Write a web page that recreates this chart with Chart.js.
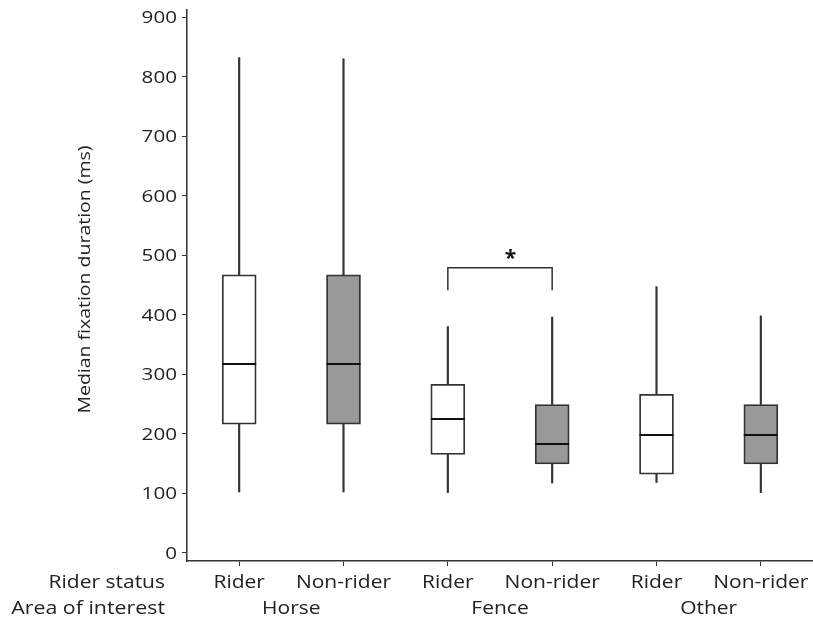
<!DOCTYPE html>
<html><head><meta charset="utf-8">
<script src="https://cdn.jsdelivr.net/npm/chart.js@4/dist/chart.umd.min.js"></script>
<style>html,body{margin:0;padding:0;background:#fff;overflow:hidden}#wrap{width:813px;height:617px}</style>
</head><body><div id="wrap"><canvas id="c" width="813" height="617"></canvas></div>
<script>
// ---- data ----
const riderStatus = ['Rider', 'Non-rider', 'Rider', 'Non-rider', 'Rider', 'Non-rider'];
const areas = ['Horse', 'Fence', 'Other'];
const whiskerMin = [102, 102, 101, 117, 118, 101];
const quartile1  = [216, 216, 165, 149, 132, 149];
const medians    = [317, 317, 225, 182, 198, 198];
const quartile3  = [467, 467, 283, 249, 266, 249];
const whiskerMax = [832, 830, 380, 396, 447, 398];
const yTicks = [0, 100, 200, 300, 400, 500, 600, 700, 800, 900];
const rowHeaders = ['Rider status', 'Area of interest'];
const yTitle = 'Median fixation duration (ms)';
const sigPair = [2, 3];
const sigBracket = [441, 479];
const sigLabel = '*';

// ---- styling ----
const FONT = "'Open Sans', 'Noto Sans', sans-serif";
const TEXT = '#222';
const LINE = '#333';
const fills = riderStatus.map(s => s === 'Rider' ? '#ffffff' : '#999999');

const boxData = quartile1.map((q, i) => [q, quartile3[i]]);
const lowData = whiskerMin.map((m, i) => [m, quartile1[i]]);
const highData = quartile3.map((q, i) => [q, whiskerMax[i]]);

function stretchText(ctx, str, x, y, align, size, sx, rot) {
  ctx.save();
  ctx.translate(x, y);
  if (rot) ctx.rotate(rot);
  ctx.scale(sx, 1);
  ctx.font = size + 'px ' + FONT;
  ctx.textAlign = align;
  ctx.textBaseline = 'alphabetic';
  ctx.fillText(str, 0, 0);
  ctx.restore();
}

const extras = {
  id: 'extras',
  afterDatasetsDraw(chart) {
    const ctx = chart.ctx, y = chart.scales.y, x = chart.scales.x;
    const meta = chart.getDatasetMeta(2);
    ctx.save();
    ctx.strokeStyle = '#111';
    ctx.lineWidth = 2;
    meta.data.forEach((bar, i) => {
      const py = Math.round(y.getPixelForValue(medians[i]));
      ctx.beginPath();
      ctx.moveTo(bar.x - bar.width / 2, py);
      ctx.lineTo(bar.x + bar.width / 2, py);
      ctx.stroke();
    });
    // significance bracket
    const x1 = x.getPixelForValue(sigPair[0]), x2 = x.getPixelForValue(sigPair[1]);
    const yb = y.getPixelForValue(sigBracket[0]), yt = y.getPixelForValue(sigBracket[1]);
    ctx.strokeStyle = LINE; ctx.lineWidth = 1.5;
    ctx.beginPath();
    ctx.moveTo(x1, yb); ctx.lineTo(x1, yt); ctx.lineTo(x2, yt); ctx.lineTo(x2, yb);
    ctx.stroke();
    ctx.fillStyle = '#111';
    ctx.font = "bold 21px " + FONT;
    ctx.textAlign = 'center'; ctx.textBaseline = 'bottom';
    ctx.fillText(sigLabel, x1 + (x2 - x1) * 0.6, yt + 2);
    ctx.restore();
  },
  afterDraw(chart) {
    const ctx = chart.ctx, x = chart.scales.x, y = chart.scales.y;
    ctx.save();
    ctx.fillStyle = TEXT;
    // y tick labels
    yTicks.forEach(v => stretchText(ctx, String(v), 177, y.getPixelForValue(v) + 6, 'right', 16.5, 1.25));
    // category labels
    riderStatus.forEach((s, i) => stretchText(ctx, s, x.getPixelForValue(i), 588, 'center', 17.5, 1.2));
    areas.forEach((a, k) => {
      const cx = (x.getPixelForValue(2 * k) + x.getPixelForValue(2 * k + 1)) / 2;
      stretchText(ctx, a, cx, 614, 'center', 17.5, 1.2);
    });
    stretchText(ctx, rowHeaders[0], 165, 588, 'right', 17.5, 1.2);
    stretchText(ctx, rowHeaders[1], 165, 614, 'right', 17.5, 1.22);
    // y title
    stretchText(ctx, yTitle, 90, (y.top + y.bottom) / 2 - 6, 'center', 16.5, 1.18, -Math.PI / 2);
    ctx.restore();
  }
};

new Chart(document.getElementById('c'), {
  type: 'bar',
  data: {
    labels: riderStatus,
    datasets: [
      { data: lowData, backgroundColor: LINE, borderWidth: 0, barThickness: 1.5, grouped: false, order: 3 },
      { data: highData, backgroundColor: LINE, borderWidth: 0, barThickness: 1.5, grouped: false, order: 2 },
      { data: boxData, backgroundColor: fills, borderColor: LINE, borderWidth: 1.8, borderSkipped: false,
        barThickness: 34, grouped: false, order: 1 }
    ]
  },
  options: {
    responsive: false,
    animation: false,
    layout: { padding: { top: 10, left: 0, right: 0, bottom: 0 } },
    plugins: { legend: { display: false }, tooltip: { enabled: false } },
    scales: {
      x: {
        offset: true,
        grid: { display: true, drawOnChartArea: false, drawTicks: true, tickLength: 5, offset: false, color: LINE },
        border: { display: true, color: LINE, width: 1.5 },
        ticks: { display: false },
        afterFit(s) { s.height = 56; }
      },
      y: {
        min: -14, max: 912,
        afterBuildTicks(s) { s.ticks = yTicks.map(v => ({ value: v })); },
        grid: { display: true, drawOnChartArea: false, drawTicks: true, tickLength: 5, color: LINE },
        border: { display: true, color: LINE, width: 1.5 },
        ticks: { display: false },
        afterFit(s) { s.width = 187; }
      }
    }
  },
  plugins: [extras]
});
</script>
</body></html>
